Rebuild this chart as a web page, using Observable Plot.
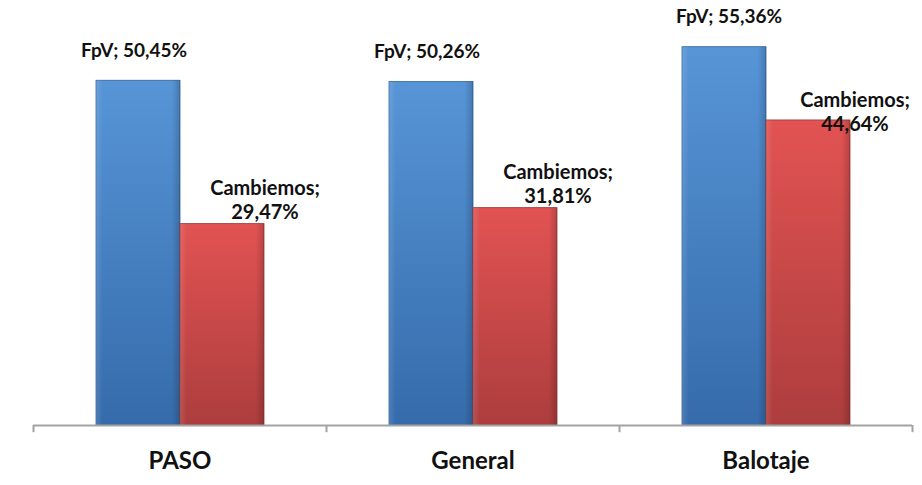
<!DOCTYPE html>
<html>
<head>
<meta charset="utf-8">
<script src="https://cdn.jsdelivr.net/npm/d3@7"></script>
<script src="https://cdn.jsdelivr.net/npm/@observablehq/plot@0.6"></script>
<style>
  html, body { margin: 0; padding: 0; background: #fff; }
  #chart svg { display: block; }
</style>
</head>
<body>
<div id="chart"></div>
<script>
const categories = ["PASO", "General", "Balotaje"];
const parties = ["FpV", "Cambiemos"];
const fpvValues = [50.45, 50.26, 55.36];
const cambiemosValues = [29.47, 31.81, 44.64];

const fmt = v => v.toFixed(2).replace(".", ",") + "%";
const fpvRows = categories.map((c, i) => ({category: c, party: parties[0], value: fpvValues[i]}));
const cambRows = categories.map((c, i) => ({category: c, party: parties[1], value: cambiemosValues[i]}));

const W = 922, H = 485, mL = 33, mR = 10, mT = 15, mB = 60;
const bw = (W - mL - mR) / categories.length;

const defs = () => {
  const d = d3.create("svg:defs");
  const g1 = d.append("linearGradient").attr("id", "gBlue").attr("x1", 0).attr("y1", 0).attr("x2", 0).attr("y2", 1);
  g1.append("stop").attr("offset", "0%").attr("stop-color", "#5795d7");
  g1.append("stop").attr("offset", "100%").attr("stop-color", "#356bab");
  const g2 = d.append("linearGradient").attr("id", "gRed").attr("x1", 0).attr("y1", 0).attr("x2", 0).attr("y2", 1);
  g2.append("stop").attr("offset", "0%").attr("stop-color", "#e25353");
  g2.append("stop").attr("offset", "100%").attr("stop-color", "#ad3d3d");
  const g3 = d.append("linearGradient").attr("id", "gShade").attr("x1", 0).attr("y1", 0).attr("x2", 1).attr("y2", 0);
  g3.append("stop").attr("offset", "0%").attr("stop-color", "#ffffff").attr("stop-opacity", 0.12);
  g3.append("stop").attr("offset", "8%").attr("stop-color", "#ffffff").attr("stop-opacity", 0);
  g3.append("stop").attr("offset", "90%").attr("stop-color", "#000000").attr("stop-opacity", 0);
  g3.append("stop").attr("offset", "100%").attr("stop-color", "#000000").attr("stop-opacity", 0.18);
  return d.node();
};

const labelFont = "Lato, 'Open Sans', sans-serif";
const isBal = d => d.category === "Balotaje";

const chart = Plot.plot({
  width: W, height: H,
  marginLeft: mL, marginRight: mR, marginTop: mT, marginBottom: mB,
  x: {domain: categories, padding: 0, label: null},
  y: {domain: [0, 60], axis: null},
  style: {fontFamily: labelFont, background: "#fff"},
  marks: [
    defs,
    Plot.barY(fpvRows, {x: "category", y: "value", fill: "url(#gBlue)", stroke: "#30609a", strokeWidth: 0.8, insetLeft: 63, insetRight: 146}),
    Plot.barY(fpvRows, {x: "category", y: "value", fill: "url(#gShade)", insetLeft: 63, insetRight: 146}),
    Plot.barY(cambRows, {x: "category", y: "value", fill: "url(#gRed)", stroke: "#963636", strokeWidth: 0.8, insetLeft: 147, insetRight: 62}),
    Plot.barY(cambRows, {x: "category", y: "value", fill: "url(#gShade)", insetLeft: 147, insetRight: 62}),
    Plot.ruleY([0], {stroke: "#a3a3a3", strokeWidth: 2}),
    Plot.ruleX(categories, {x: d => d, y1: 0, y2: -1.05, dx: -bw / 2, stroke: "#a3a3a3", strokeWidth: 2}),
    Plot.ruleX(categories.slice(-1), {x: d => d, y1: 0, y2: -1.05, dx: bw / 2, stroke: "#a3a3a3", strokeWidth: 2}),
    Plot.text(fpvRows.filter(d => !isBal(d)), {x: "category", y: "value", text: d => `${d.party}; ${fmt(d.value)}`, dx: -46, dy: -30, fontSize: 19, fontWeight: "bold", fill: "#111"}),
    Plot.text(fpvRows.filter(isBal), {x: "category", y: "value", text: d => `${d.party}; ${fmt(d.value)}`, dx: -37, dy: -30, fontSize: 19, fontWeight: "bold", fill: "#111"}),
    Plot.text(cambRows.filter(d => !isBal(d)), {x: "category", y: "value", text: d => `${d.party};\n${fmt(d.value)}`, dx: 85, dy: -25, lineHeight: 1.2, fontSize: 20, fontWeight: "bold", fill: "#111"}),
    Plot.text(cambRows.filter(isBal), {x: "category", y: "value", text: d => `${d.party};\n${fmt(d.value)}`, dx: 89, dy: -9, lineHeight: 1.2, fontSize: 20, fontWeight: "bold", fill: "#111"}),
    Plot.axisX({tickSize: 0, tickPadding: 26, fontSize: 24, fontWeight: "bold", fill: "#111", label: null})
  ]
});
document.getElementById("chart").appendChild(chart);
</script>
</body>
</html>
